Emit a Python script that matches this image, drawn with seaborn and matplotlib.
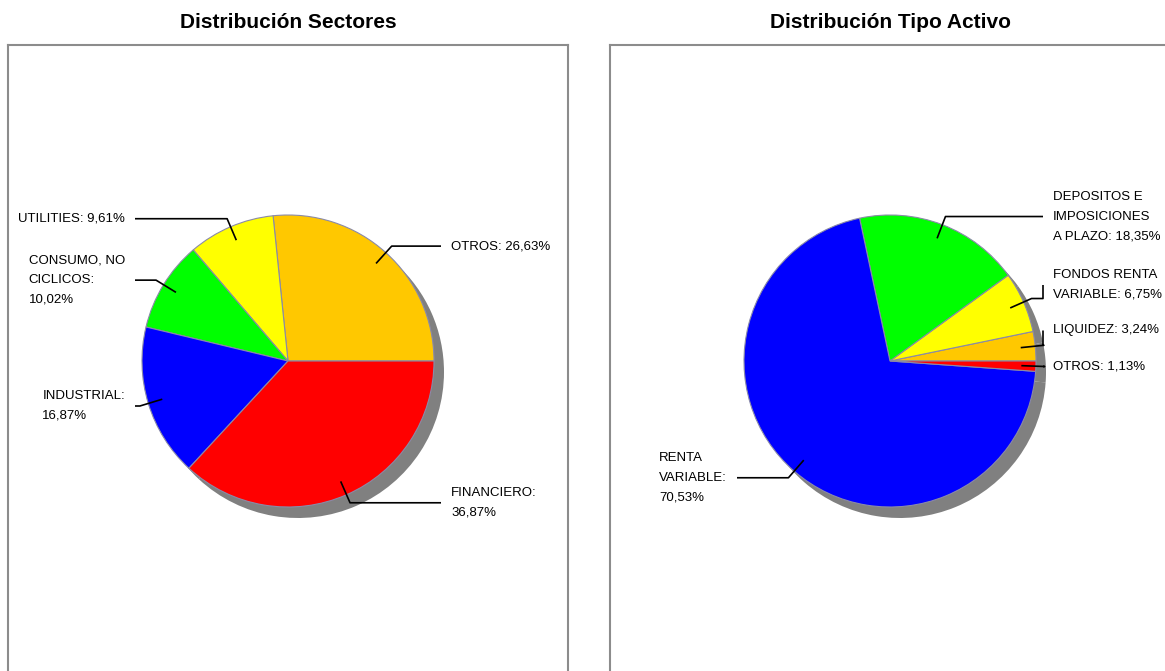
import numpy as np
import matplotlib
matplotlib.use("Agg")
import matplotlib.pyplot as plt
import seaborn as sns

# datos
sectores = ["OTROS", "UTILITIES", "CONSUMO, NO\nCICLICOS", "INDUSTRIAL", "FINANCIERO"]
sectores_txt = ["OTROS: {}", "UTILITIES: {}", "CONSUMO, NO\nCICLICOS:\n{}", "INDUSTRIAL:\n{}", "FINANCIERO:\n{}"]
sectores_pct = [26.63, 9.61, 10.02, 16.87, 36.87]
sectores_col = ["#FFC800", "#FFFF00", "#00FF00", "#0000FF", "#FF0000"]

activos = ["LIQUIDEZ", "FONDOS RENTA VARIABLE", "DEPOSITOS E IMPOSICIONES A PLAZO", "RENTA VARIABLE", "OTROS"]
activos_txt = ["LIQUIDEZ: {}", "FONDOS RENTA\nVARIABLE: {}", "DEPOSITOS E\nIMPOSICIONES\nA PLAZO: {}", "RENTA\nVARIABLE:\n{}", "OTROS: {}"]
activos_pct = [3.24, 6.75, 18.35, 70.53, 1.13]
activos_col = ["#FFC800", "#FFFF00", "#00FF00", "#0000FF", "#FF0000"]

sns.set_theme(style="white")
plt.rcParams["font.family"] = ["Liberation Sans", "DejaVu Sans"]

W, H = 1165, 671
fig = plt.figure(figsize=(W / 100, H / 100), dpi=100)
fig.patch.set_facecolor("white")

R = 146
LINE_H = 19


def fmt(v):
    return ("%.2f%%" % v).replace(".", ",")


def tarta(x0, x1, titulo, valores, textos, colores):
    # ejes en coordenadas de pixel (y hacia arriba)
    y_top, y_bot = 45, 720
    ax = fig.add_axes([x0 / W, (H - y_bot) / H, (x1 - x0) / W, (y_bot - y_top) / H])
    ax.set_xlim(x0, x1)
    ax.set_ylim(H - y_bot, H - y_top)
    cx, cy = (x0 + x1) / 2, H - 361

    # sombra
    ax.pie(valores, colors=["#808080"] * len(valores), startangle=0, counterclock=True,
           radius=R, center=(cx + 10, cy - 11), frame=True,
           wedgeprops=dict(linewidth=0))
    wedges, _ = ax.pie(valores, colors=colores, startangle=0, counterclock=True,
                       radius=R, center=(cx, cy), frame=True,
                       wedgeprops=dict(edgecolor="#8a8aa8", linewidth=0.8))
    ax.set_xlim(x0, x1)
    ax.set_ylim(H - y_bot, H - y_top)
    ax.set_aspect("auto")
    ax.set_xticks([])
    ax.set_yticks([])
    for s in ax.spines.values():
        s.set_color("#8c8c8c")
        s.set_linewidth(1.5)
    ax.set_title(titulo, fontsize=15, fontweight="bold", pad=12, color="black")

    etiquetas = []
    for w, v, t in zip(wedges, valores, textos):
        ang = np.deg2rad((w.theta1 + w.theta2) / 2)
        lado = 1 if np.cos(ang) >= 0 else -1
        p_in = (cx + 0.9 * R * np.cos(ang), cy + 0.9 * R * np.sin(ang))
        p_el = (cx + 1.06 * R * np.cos(ang), cy + 1.06 * R * np.sin(ang))
        txt = t.format(fmt(v))
        etiquetas.append(dict(lado=lado, p_in=p_in, p_el=p_el, txt=txt,
                              n=txt.count("\n") + 1, y=p_el[1]))

    # separar etiquetas solapadas (de abajo hacia arriba)
    for lado in (1, -1):
        grupo = sorted([e for e in etiquetas if e["lado"] == lado], key=lambda e: e["y"])
        for a, b in zip(grupo[:-1], grupo[1:]):
            minimo = (a["n"] + b["n"]) / 2 * LINE_H + 17
            if b["y"] - a["y"] < minimo:
                b["y"] = a["y"] + minimo

    for e in etiquetas:
        x_end = cx + e["lado"] * 153
        xs = [e["p_in"][0], e["p_el"][0], x_end, x_end]
        ys = [e["p_in"][1], e["p_el"][1], e["p_el"][1], e["y"]]
        ax.plot(xs, ys, color="black", linewidth=1.2, solid_capstyle="butt")
        ax.text(x_end + e["lado"] * 10, e["y"], e["txt"], fontsize=9.5,
                ha="left" if e["lado"] > 0 else "right", va="center",
                multialignment="left", linespacing=1.85, color="black")
    return ax


tarta(8, 568, "Distribución Sectores", sectores_pct, sectores_txt, sectores_col)
tarta(610, 1170, "Distribución Tipo Activo", activos_pct, activos_txt, activos_col)

fig.savefig("out.png", dpi=100)
